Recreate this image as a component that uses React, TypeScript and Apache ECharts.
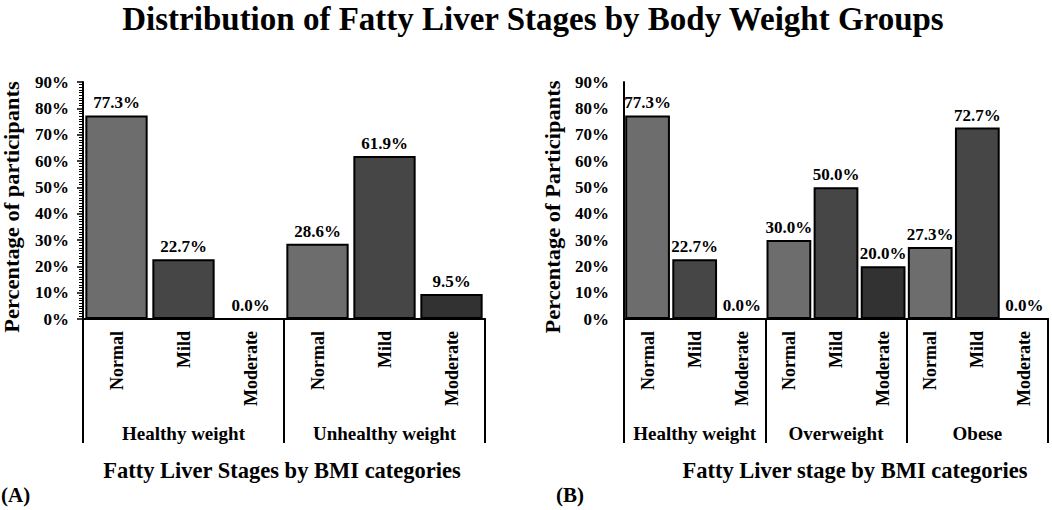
import React, { useEffect, useRef } from "react";
import * as echarts from "echarts";

const titleText = "Distribution of Fatty Liver Stages by Body Weight Groups";
const stagesA = ["Normal", "Mild", "Moderate", "Normal", "Mild", "Moderate"];
const groupsA = ["Healthy weight", "Unhealthy weight"];
const valuesA = [77.3, 22.7, 0.0, 28.6, 61.9, 9.5];
const stagesB = ["Normal", "Mild", "Moderate", "Normal", "Mild", "Moderate", "Normal", "Mild", "Moderate"];
const groupsB = ["Healthy weight", "Overweight", "Obese"];
const valuesB = [77.3, 22.7, 0.0, 30.0, 50.0, 20.0, 27.3, 72.7, 0.0];
const yNameA = "Percentage of participants";
const yNameB = "Percentage of Participants";
const xTitleA = "Fatty Liver Stages by BMI categories";
const xTitleB = "Fatty Liver stage by BMI categories";
const yMin = 0;
const yMax = 90;
const yStep = 10;

const stageColors: Record<string, string> = {
  Normal: "#6d6d6d",
  Mild: "#464646",
  Moderate: "#323232",
};

const FONT = '"Liberation Serif", "Times New Roman", serif';

function makeXAxes(gridIndex: number, stages: string[], groups: string[]) {
  return [
    {
      gridIndex,
      type: "category",
      position: "bottom",
      data: stages,
      axisLine: { show: true, lineStyle: { color: "#000", width: 2 } },
      axisTick: { show: false },
      axisLabel: {
        rotate: 90,
        margin: 12,
        interval: 0,
        color: "#000",
        fontFamily: FONT,
        fontWeight: "bold",
        fontSize: 18,
      },
    },
    {
      gridIndex,
      type: "category",
      position: "bottom",
      data: groups,
      axisLine: { show: true, lineStyle: { color: "#000", width: 2 } },
      axisTick: { show: true, length: 124, lineStyle: { color: "#000", width: 2 } },
      axisLabel: {
        margin: 105,
        interval: 0,
        color: "#000",
        fontFamily: FONT,
        fontWeight: "bold",
        fontSize: 19,
      },
    },
  ];
}

function makeYAxis(gridIndex: number, withTicks: boolean, margin: number) {
  return {
    gridIndex,
    type: "value",
    min: yMin,
    max: yMax,
    interval: yStep,
    axisLine: { show: true, lineStyle: { color: "#000", width: 2 } },
    axisTick: { show: withTicks, length: 6, lineStyle: { color: "#000", width: 1.5 } },
    minorTick: { show: withTicks, splitNumber: 10, length: 4, lineStyle: { color: "#000", width: 1 } },
    splitLine: { show: false },
    minorSplitLine: { show: false },
    axisLabel: {
      formatter: "{value}%",
      margin,
      color: "#000",
      fontFamily: FONT,
      fontWeight: "bold",
      fontSize: 17,
    },
  };
}

function makeSeries(xAxisIndex: number, yAxisIndex: number, stages: string[], values: number[], gap: string) {
  return {
    type: "bar",
    xAxisIndex,
    yAxisIndex,
    barCategoryGap: gap,
    data: values.map((v, i) => ({ value: v, itemStyle: { color: stageColors[stages[i]] } })),
    itemStyle: { borderColor: "#000", borderWidth: 2 },
    label: {
      show: true,
      position: "top",
      distance: 4,
      formatter: (p: any) => Number(p.value).toFixed(1) + "%",
      color: "#000",
      fontFamily: FONT,
      fontWeight: "bold",
      fontSize: 17,
    },
  };
}

function txt(text: string, x: number, y: number, size: number, opts: any = {}) {
  return {
    type: "text",
    x,
    y,
    rotation: opts.rotation || 0,
    scaleX: opts.scaleX || 1,
    style: {
      text,
      fill: "#000",
      font: `bold ${size}px ${FONT}`,
      textAlign: opts.align || "center",
      textVerticalAlign: "middle",
    },
  };
}

export default function App() {
  const ref = useRef<HTMLDivElement>(null);
  useEffect(() => {
    if (!ref.current) return;
    const chart = echarts.init(ref.current, undefined, { renderer: "svg" });
    chart.setOption({
      animation: false,
      backgroundColor: "#fff",
      grid: [
        { left: 83, top: 82, width: 402, height: 237 },
        { left: 624, top: 82, width: 424, height: 237 },
      ],
      xAxis: [...makeXAxes(0, stagesA, groupsA), ...makeXAxes(1, stagesB, groupsB)],
      yAxis: [makeYAxis(0, true, 14), makeYAxis(1, false, 15)],
      series: [
        makeSeries(0, 0, stagesA, valuesA, "7%"),
        makeSeries(2, 1, stagesB, valuesB, "5%"),
      ],
      graphic: [
        txt(titleText, 533, 19, 33),
        txt(yNameA, 12, 207, 21, { rotation: Math.PI / 2, scaleX: 1.07 }),
        txt(yNameB, 553, 207, 21, { rotation: Math.PI / 2, scaleX: 1.07 }),
        txt(xTitleA, 282, 470, 22.5),
        txt(xTitleB, 855, 470, 22.5),
        txt("(A)", 1, 495, 21, { align: "left" }),
        txt("(B)", 556, 495, 21, { align: "left" }),
      ],
    });
    return () => chart.dispose();
  }, []);
  return (
    <div
      ref={ref}
      style={{ position: "fixed", left: 0, top: 0, width: 1052, height: 510, background: "#fff" }}
    />
  );
}
